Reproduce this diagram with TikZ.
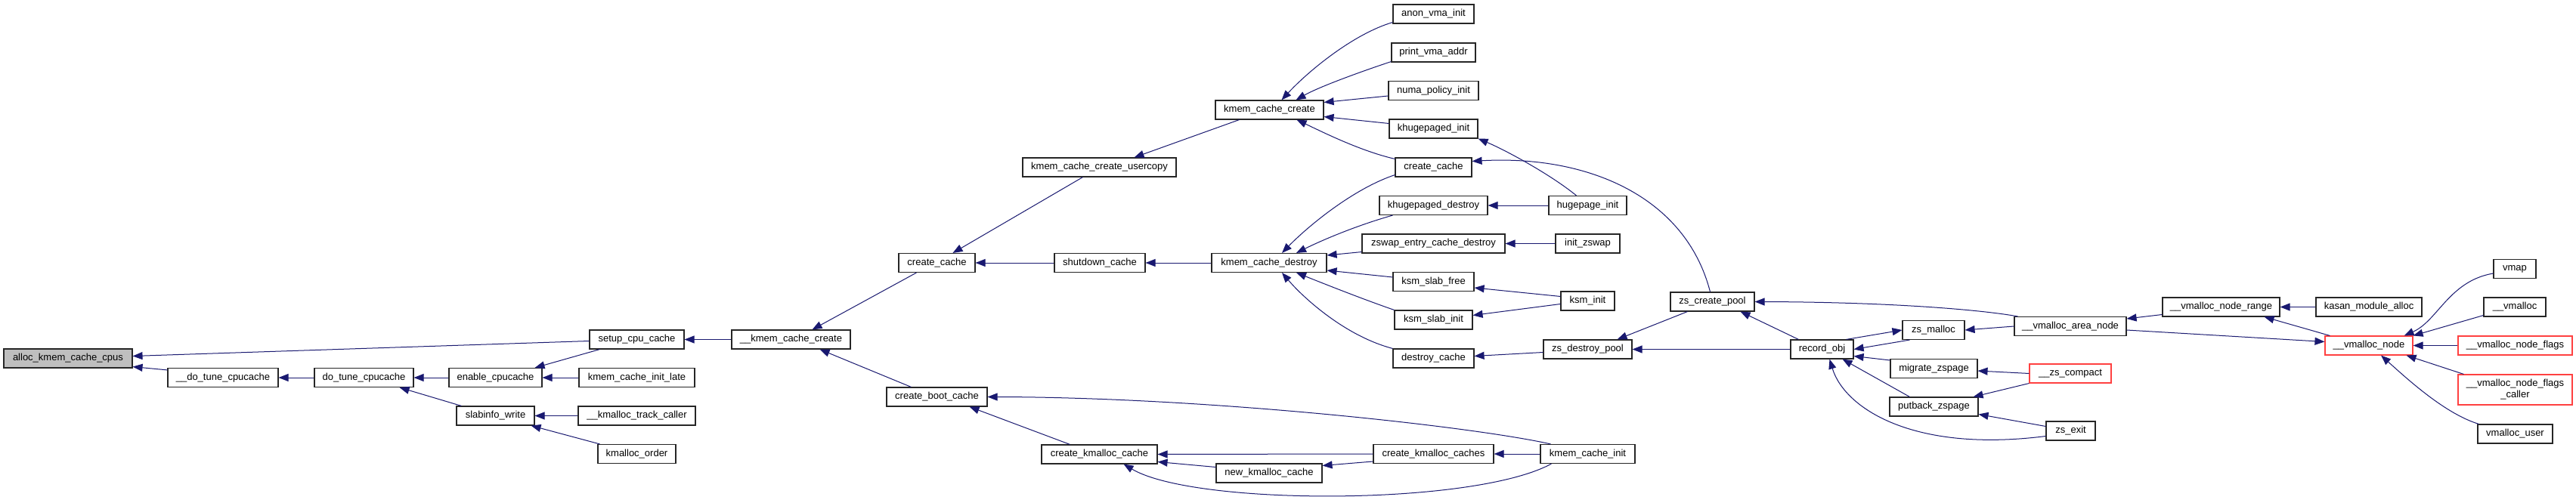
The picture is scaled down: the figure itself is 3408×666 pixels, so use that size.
\documentclass[tikz,border=0pt]{standalone}
\usepackage{fontspec}
\setmainfont{Liberation Sans}
\usetikzlibrary{arrows.meta,calc}
\definecolor{edgeblue}{HTML}{191970}
\definecolor{rootgray}{HTML}{BFBFBF}
\definecolor{truncred}{HTML}{FF4040}
\begin{document}
\begin{tikzpicture}[x=1pt,y=-1pt,
  fn/.style={draw=black!85, line width=1.1pt, fill=white, rectangle, inner sep=0pt,
    minimum height=25pt, font=\fontsize{13}{15}\selectfont, text=black},
  root/.style={fn, fill=rootgray},
  trunc/.style={fn, draw=truncred},
  edge/.style={draw=edgeblue, line width=1pt, <-, >={Triangle[length=13pt,width=10pt]}}]
\useasboundingbox[fill=white] (0,0) rectangle (3408,666);

% column 0-5
\node[root, minimum width=170pt] (alloc) at (90,474.5) {alloc\_kmem\_cache\_cpus};
\node[fn, minimum width=146pt] (dtc) at (295,500) {\_\_do\_tune\_cpucache};
\node[fn, minimum width=131pt] (dotc) at (481.5,500) {do\_tune\_cpucache};
\node[fn, minimum width=123pt] (enable) at (655.5,500) {enable\_cpucache};
\node[fn, minimum width=103pt] (slabinfo) at (655.5,550.5) {slabinfo\_write};
\node[fn, minimum width=125pt] (setup) at (842.5,449.5) {setup\_cpu\_cache};
\node[fn, minimum width=153pt] (kcil) at (842.5,500) {kmem\_cache\_init\_late};
\node[fn, minimum width=155pt] (kmtc) at (842.5,550.5) {\_\_kmalloc\_track\_caller};
\node[fn, minimum width=103pt] (kmorder) at (842.5,601) {kmalloc\_order};
\node[fn, minimum width=157pt] (kcc) at (1046.5,449.5) {\_\_kmem\_cache\_create};
% column 6-8
\node[fn, minimum width=101pt] (cc1) at (1239.5,348) {create\_cache};
\node[fn, minimum width=133pt] (cbc) at (1239.5,525.5) {create\_boot\_cache};
\node[fn, minimum width=203pt] (usercopy) at (1454.5,221.5) {kmem\_cache\_create\_usercopy};
\node[fn, minimum width=120pt] (shutdown) at (1455,348) {shutdown\_cache};
\node[fn, minimum width=153pt] (ckc) at (1454.5,601.5) {create\_kmalloc\_cache};
\node[fn, minimum width=143pt] (kmcc) at (1679.5,145.5) {kmem\_cache\_create};
\node[fn, minimum width=152pt] (kcd) at (1679,348) {kmem\_cache\_destroy};
\node[fn, minimum width=140pt] (nkc) at (1679,626.5) {new\_kmalloc\_cache};
% column 9
\node[fn, minimum width=107pt] (anon) at (1896.5,18.5) {anon\_vma\_init};
\node[fn, minimum width=111pt] (pva) at (1896.5,69.5) {print\_vma\_addr};
\node[fn, minimum width=119pt] (numa) at (1896.5,120) {numa\_policy\_init};
\node[fn, minimum width=117pt] (khi) at (1896.5,170.5) {khugepaged\_init};
\node[fn, minimum width=101pt] (cc2) at (1896.5,221.5) {create\_cache};
\node[fn, minimum width=143pt] (khd) at (1896.5,272) {khugepaged\_destroy};
\node[fn, minimum width=189pt] (zecd) at (1896.5,322.5) {zswap\_entry\_cache\_destroy};
\node[fn, minimum width=107pt] (ksf) at (1896.5,373) {ksm\_slab\_free};
\node[fn, minimum width=103pt] (ksi) at (1896.5,423.5) {ksm\_slab\_init};
\node[fn, minimum width=107pt] (dc) at (1896.5,474.5) {destroy\_cache};
\node[fn, minimum width=159pt] (ckcs) at (1896.5,601) {create\_kmalloc\_caches};
% column 10-11
\node[fn, minimum width=103pt] (hpi) at (2100.5,272) {hugepage\_init};
\node[fn, minimum width=85pt] (izs) at (2100.5,322.5) {init\_zswap};
\node[fn, minimum width=71pt] (ksminit) at (2100.5,398.5) {ksm\_init};
\node[fn, minimum width=117pt] (zdp) at (2100.5,462.5) {zs\_destroy\_pool};
\node[fn, minimum width=125pt] (kci) at (2100.5,601) {kmem\_cache\_init};
\node[fn, minimum width=111pt] (zcp) at (2265.5,399.5) {zs\_create\_pool};
% column 12-14
\node[fn, minimum width=83pt] (robj) at (2410.5,462.5) {record\_obj};
\node[fn, minimum width=82pt] (zsm) at (2558,437) {zs\_malloc};
\node[fn, minimum width=115pt] (mzs) at (2558.5,488) {migrate\_zspage};
\node[fn, minimum width=117pt] (pzs) at (2558.5,538.5) {putback\_zspage};
\node[fn, minimum width=148pt] (van) at (2739,432) {\_\_vmalloc\_area\_node};
\node[trunc, minimum width=108pt] (zsc) at (2739,494.5) {\_\_zs\_compact};
\node[fn, minimum width=65pt] (zexit) at (2739.5,570.5) {zs\_exit};
% column 15-17
\node[fn, minimum width=155pt] (vnr) at (2938.5,406.5) {\_\_vmalloc\_node\_range};
\node[fn, minimum width=140pt] (kma) at (3134,406.5) {kasan\_module\_alloc};
\node[trunc, minimum width=116pt] (vn) at (3134,457.5) {\_\_vmalloc\_node};
\node[fn, minimum width=56pt] (vmap) at (3327,356) {vmap};
\node[fn, minimum width=82pt] (vmalloc) at (3327,406.5) {\_\_vmalloc};
\node[trunc, minimum width=151pt] (vnf) at (3327.5,457.5) {\_\_vmalloc\_node\_flags};
\node[trunc, minimum width=151pt, minimum height=40pt, align=center] (vnfc) at (3327.5,516) {\_\_vmalloc\_node\_flags\\\_caller};
\node[fn, minimum width=99pt] (vuser) at (3327.5,574.5) {vmalloc\_user};

% edges (arrow tip at the callee)
\draw[edge] ($(alloc.east)+(0,-3)$) -- ($(setup.west)+(0,2)$);
\draw[edge] ($(alloc.south east)+(0,-2)$) -- ($(dtc.north west)+(0,3)$);
\draw[edge] (dtc.east) -- (dotc.west);
\draw[edge] (dotc.east) -- (enable.west);
\draw[edge] ($(dotc.south east)+(-19,0)$) -- ($(slabinfo.north west)+(7,0)$);
\draw[edge] ($(enable.north east)+(-10,0)$) -- ($(setup.south west)+(14,0)$);
\draw[edge] (enable.east) -- (kcil.west);
\draw[edge] (setup.east) -- (kcc.west);
\draw[edge] (slabinfo.east) -- (kmtc.west);
\draw[edge] ($(slabinfo.south east)+(-5,0)$) -- ($(kmorder.north west)+(3,0)$);
\draw[edge] ($(kcc.north)+(28,0)$) -- ($(cc1.south west)+(24,0)$);
\draw[edge] ($(kcc.south)+(38,0)$) -- ($(cbc.north west)+(33,0)$);
\draw[edge] ($(cc1.north)+(21,0)$) -- ($(usercopy.south)+(-22,0)$);
\draw[edge] ($(usercopy.north)+(46,0)$) -- ($(kmcc.south)+(-40,0)$);
\draw[edge] (cc1.east) -- (shutdown.west);
\draw[edge] (shutdown.east) -- (kcd.west);
\draw[edge] ($(kmcc.north)+(16,0)$) .. controls (1730,95) and (1790,45) .. ($(anon.south west)+(0,-2)$);
\draw[edge] ($(kmcc.north)+(35,0)$) .. controls (1745,115) and (1800,95) .. ($(pva.south west)+(0,-1)$);
\draw[edge] ($(kmcc.east)+(0,-10)$) -- ($(numa.west)+(0,7)$);
\draw[edge] ($(kmcc.east)+(0,9)$) -- ($(khi.west)+(0,-7)$);
\draw[edge] ($(kmcc.south)+(36,0)$) .. controls (1750,175) and (1800,200) .. ($(cc2.north west)+(0,2)$);
\draw[edge] (khi.south east) .. controls (1990,198) and (2050,230) .. ($(hpi.north)+(-15,0)$);
\draw[edge] (khd.east) -- (hpi.west);
\draw[edge] ($(cc2.east)+(0,-8)$) .. controls (2100,205) and (2230,260) .. ($(zcp.north)+(-3,0)$);
\draw[edge] ($(kcd.north)+(17,0)$) .. controls (1730,300) and (1790,250) .. ($(cc2.south west)+(0,-3)$);
\draw[edge] ($(kcd.north)+(36,0)$) .. controls (1745,320) and (1790,300) .. ($(khd.south west)+(18,0)$);
\draw[edge] ($(kcd.east)+(0,-10)$) -- ($(zecd.south west)+(0,-2)$);
\draw[edge] ($(kcd.east)+(0,10)$) -- ($(ksf.west)+(0,-6)$);
\draw[edge] ($(kcd.south)+(36,0)$) .. controls (1750,375) and (1800,395) .. (ksi.north west);
\draw[edge] ($(kcd.south)+(17,0)$) .. controls (1725,395) and (1780,445) .. (dc.north west);
\draw[edge] (zecd.east) -- (izs.west);
\draw[edge] ($(ksf.east)+(0,8)$) -- ($(ksminit.west)+(0,-6)$);
\draw[edge] ($(ksi.east)+(0,-6)$) -- ($(ksminit.west)+(0,4)$);
\draw[edge] ($(dc.east)+(0,-3)$) -- ($(zdp.west)+(0,4)$);
\draw[edge] ($(zdp.north east)+(-20,0)$) -- ($(zcp.south)+(-33,0)$);
\draw[edge] (zdp.east) -- (robj.west);
\draw[edge] ($(zcp.south)+(37,0)$) -- ($(robj.north west)+(11,0)$);
\draw[edge] (zcp.east) .. controls (2500,400) and (2620,410) .. ($(van.north west)+(5,0)$);
\draw[edge] (zsm.west) -- ($(robj.north east)+(-10,0)$);
\draw[edge] (robj.east) -- ($(zsm.south west)+(10,0)$);
\draw[edge] ($(robj.east)+(0,9)$) -- ($(mzs.west)+(0,-11)$);
\draw[edge] ($(robj.south)+(27,0)$) -- ($(pzs.north west)+(27,0)$);
\draw[edge] ($(robj.south)+(10,0)$) .. controls (2440,540) and (2530,600) .. ($(zexit.west)+(0,7)$);
\draw[edge] (zsm.east) -- (van.west);
\draw[edge] ($(mzs.east)+(0,3)$) -- (zsc.west);
\draw[edge] ($(pzs.north east)+(-7,0)$) -- (zsc.south west);
\draw[edge] ($(pzs.east)+(0,10)$) -- ($(zexit.west)+(0,-6)$);
\draw[edge] ($(van.east)+(0,-10)$) -- ($(vnr.west)+(0,10)$);
\draw[edge] ($(vn.west)+(0,-5)$) -- ($(van.east)+(0,5)$);
\draw[edge] (vnr.east) -- (kma.west);
\draw[edge] ($(vnr.south)+(57,0)$) -- ($(vn.north west)+(7,0)$);
\draw[edge] ($(vn.north east)+(-12,0)$) .. controls (3225,425) and (3240,372) .. ($(vmap.west)+(0,6)$);
\draw[edge] (vn.north east) -- ($(vmalloc.south west)+(0,-2)$);
\draw[edge] (vn.east) -- (vnf.west);
\draw[edge] ($(vn.south east)+(-9,0)$) -- ($(vnfc.north west)+(8,0)$);
\draw[edge] ($(vn.south)+(16,0)$) .. controls (3185,502) and (3235,548) .. ($(vuser.north west)+(2,0)$);
\draw[edge] (cbc.east) .. controls (1600,526) and (1950,565) .. ($(kci.north west)+(14,0)$);
\draw[edge] ($(cbc.south)+(43,0)$) -- ($(ckc.north west)+(38,0)$);
\draw[edge] (ckc.east) -- (ckcs.west);
\draw[edge] ($(nkc.east)+(0,-10)$) -- ($(ckcs.west)+(0,10)$);
\draw[edge] ($(ckc.east)+(0,10)$) -- ($(nkc.west)+(0,-8)$);
\draw[edge] ($(ckc.south)+(32,0)$) .. controls (1580,670) and (1950,670) .. ($(kci.south west)+(15,0)$);
\draw[edge] (ckcs.east) -- (kci.west);
\end{tikzpicture}
\end{document}
